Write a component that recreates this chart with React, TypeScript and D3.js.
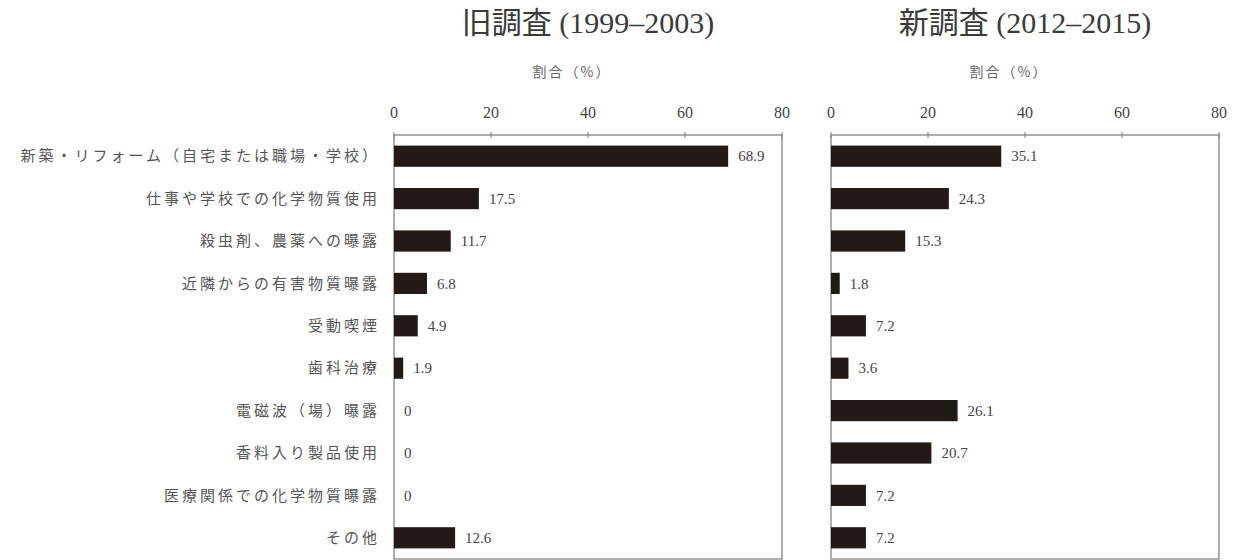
import React from "react";
import * as d3 from "d3";

const categories = [
  "新築・リフォーム（自宅または職場・学校）",
  "仕事や学校での化学物質使用",
  "殺虫剤、農薬への曝露",
  "近隣からの有害物質曝露",
  "受動喫煙",
  "歯科治療",
  "電磁波（場）曝露",
  "香料入り製品使用",
  "医療関係での化学物質曝露",
  "その他",
];
const oldValues = [68.9, 17.5, 11.7, 6.8, 4.9, 1.9, 0, 0, 0, 12.6];
const newValues = [35.1, 24.3, 15.3, 1.8, 7.2, 3.6, 26.1, 20.7, 7.2, 7.2];
const ticks = [0, 20, 40, 60, 80];
const titles = ["旧調査 (1999–2003)", "新調査 (2012–2015)"];
const axisLabel = "割合（%）";

const SERIF = "'Liberation Serif', 'Noto Sans CJK JP', serif";
const CJK = "'Noto Sans CJK JP', sans-serif";
const BAR = "#221a17";
const FRAME = "#7a7a7a";
const TOP = 135;
const BOTTOM = 559;

function bandScale() {
  return d3
    .scaleBand<string>()
    .domain(categories)
    .range([TOP, BOTTOM])
    .paddingInner(0.5)
    .paddingOuter(0.25);
}

function Panel({ x0, x1, values, title }: { x0: number; x1: number; values: number[]; title: string }) {
  const x = d3.scaleLinear().domain([0, 80]).range([x0, x1]);
  const y = bandScale();
  const cx = (x0 + x1) / 2;
  return (
    <g>
      <text x={cx} y={33} textAnchor="middle" fontFamily={SERIF} fontSize={30} fill="#3a3a3a">
        {title}
      </text>
      <text x={cx - 16} y={77} textAnchor="middle" fontFamily={CJK} fontSize={14} letterSpacing={2} fill="#666">
        {axisLabel}
      </text>
      {ticks.map((t) => (
        <g key={t}>
          <text x={x(t)} y={118} textAnchor="middle" fontFamily={SERIF} fontSize={16} fill="#444">
            {t}
          </text>
          <line x1={x(t)} x2={x(t)} y1={TOP - 3} y2={TOP + 3} stroke={FRAME} strokeWidth={1} />
        </g>
      ))}
      <rect x={x0} y={TOP} width={x1 - x0} height={BOTTOM - TOP} fill="none" stroke={FRAME} strokeWidth={1.2} />
      {categories.map((c, i) => (
        <g key={c}>
          <rect x={x(0)} y={y(c)!} width={x(values[i]) - x(0)} height={y.bandwidth()} fill={BAR} />
          <text
            x={x(values[i]) + 10}
            y={y(c)! + y.bandwidth() / 2}
            dy="0.35em"
            fontFamily={SERIF}
            fontSize={15}
            fill="#444"
          >
            {values[i]}
          </text>
        </g>
      ))}
    </g>
  );
}

export default function App() {
  const y = bandScale();
  return (
    <svg width={1234} height={560} style={{ position: "absolute", left: 0, top: 0, background: "#fff" }}>
      <rect width={1234} height={560} fill="#fff" />
      {categories.map((c) => (
        <text
          key={c}
          x={380}
          y={y(c)! + y.bandwidth() / 2}
          dy="0.35em"
          textAnchor="end"
          fontFamily={CJK}
          fontSize={15}
          letterSpacing={3}
          fill="#555"
        >
          {c}
        </text>
      ))}
      <Panel x0={394} x1={782} values={oldValues} title={titles[0]} />
      <Panel x0={831} x1={1219} values={newValues} title={titles[1]} />
    </svg>
  );
}
